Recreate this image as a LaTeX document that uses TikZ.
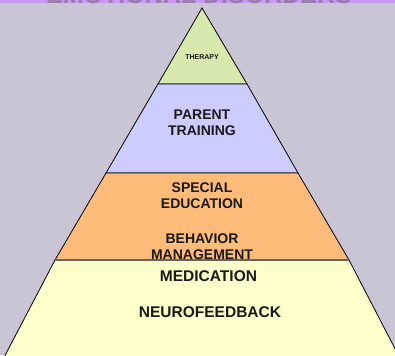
\documentclass[tikz,border=0pt]{standalone}
\usepackage{fontspec}
\setmainfont{Liberation Sans}
\definecolor{bgc}{RGB}{201,197,212}
\definecolor{bandc}{RGB}{200,152,245}
\definecolor{titlec}{RGB}{150,125,170}
\definecolor{greenc}{RGB}{215,233,172}
\definecolor{purplec}{RGB}{204,204,255}
\definecolor{orangec}{RGB}{255,187,122}
\definecolor{yellowc}{RGB}{255,255,204}
\definecolor{edgec}{RGB}{105,100,85}
\begin{document}
\begin{tikzpicture}[x=1pt,y=-1pt,
  layer/.style={draw=black,line width=0.8pt,line join=miter},
  lbl/.style={font=\bfseries\fontsize{14}{16.5}\selectfont,align=center,inner sep=0pt,text=black!90},
  biglbl/.style={font=\bfseries\fontsize{15.5}{18}\selectfont,align=center,inner sep=0pt,text=black!90}]
\useasboundingbox (0,0) rectangle (395,355);
\clip (0,0) rectangle (395,355);
\fill[bgc] (0,0) rectangle (395,355);
\fill[bandc] (0,0) rectangle (395,3.5);
\node[anchor=base,inner sep=0pt,text=titlec,font=\bfseries\fontsize{25}{25}\selectfont] (title) at (199,4) {EMOTIONAL DISORDERS};
% layers
\filldraw[layer,fill=greenc] (202,8) -- (158,84) -- (247,84) -- cycle;
\filldraw[layer,fill=purplec] (158,84) -- (106,173) -- (298,173) -- (247,84) -- cycle;
\filldraw[layer,fill=orangec] (106,173) -- (55,260) -- (349,260) -- (298,173) -- cycle;
\node[lbl] (therapy) at (202,57.5) {\fontsize{7}{8}\selectfont THERAPY};
\node[lbl] (parent) at (202,123) {PARENT\\TRAINING};
\node[lbl] (special) at (202,195.5) {SPECIAL\\EDUCATION};
\node[lbl] (behavior) at (202,246.5) {BEHAVIOR\\MANAGEMENT};
\fill[yellowc] (55,260) -- (349,260) -- (404,366) -- (-0.5,366) -- cycle;
\draw[black,line width=0.8pt] (55,260) -- (-0.5,366);
\draw[black,line width=0.8pt] (349,260) -- (404,366);
\draw[edgec,line width=1.3pt] (55,260) -- (349,260);
\node[biglbl] (medication) at (208.5,276) {MEDICATION};
\node[biglbl] (neuro) at (210,312.5) {NEUROFEEDBACK};
\end{tikzpicture}
\end{document}
